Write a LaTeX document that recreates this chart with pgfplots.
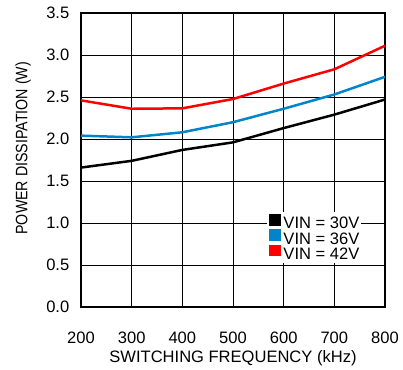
\documentclass[border=0pt]{standalone}
\usepackage{graphicx}
\usepackage{pgfplots}
\pgfplotsset{compat=1.18}
\usepackage{fontspec}
\setmainfont{Liberation Sans}
\definecolor{vblue}{RGB}{0,133,202}
\definecolor{vred}{RGB}{255,0,0}
\newcommand{\chartfont}{\fontsize{16.6}{18}\selectfont}
\begin{document}
\chartfont
\begin{tikzpicture}
\begin{axis}[
    scale only axis,
    width=304bp, height=294bp,
    xmin=200, xmax=800, ymin=0, ymax=3.5,
    xtick={200,300,...,800},
    ytick={0,0.5,...,3.5},
    yticklabel style={/pgf/number format/fixed, /pgf/number format/fixed zerofill,
        /pgf/number format/precision=1, anchor=east, xshift=-6bp},
    /pgf/number format/assume math mode=true,
    tick style={draw=none},
    ticklabel style={font=\chartfont},
    xticklabel style={anchor=base, yshift=-36bp},
    grid=major,
    major grid style={black, line width=0.75pt},
    axis line style={line width=2.2pt},
    xlabel={SWITCHING FREQUENCY (kHz)},
    ylabel={\scalebox{0.86}[1]{POWER DISSIPATION (W)}},
    label style={font=\chartfont},
    xlabel style={at={(axis description cs:0.5,-0.19)}, anchor=base},
    ylabel style={at={(axis description cs:-0.146,0.54)}, anchor=south},
    legend style={at={(0.612,0.323)}, anchor=north west, draw=none, fill=white,
        inner xsep=2bp, inner ysep=2bp, row sep=-1bp, font=\chartfont,
        nodes={inner sep=0pt, text height=11.5bp, text depth=1.5bp}},
    legend cell align=left,
    legend image code/.code={\fill[#1] (0bp,-0.5bp) rectangle (9bp,8.5bp);},
]
\addplot[black, line width=2.5pt] coordinates {(200,1.66) (300,1.74) (400,1.87) (500,1.96) (600,2.13) (700,2.29) (800,2.47)};
\addlegendentry{\,VIN = 30V\hspace{20bp}}
\addplot[vblue, line width=2.5pt] coordinates {(200,2.04) (300,2.02) (400,2.08) (500,2.20) (600,2.36) (700,2.53) (800,2.74)};
\addlegendentry{\,VIN = 36V}
\addplot[vred, line width=2.5pt] coordinates {(200,2.46) (300,2.36) (400,2.365) (500,2.476) (600,2.66) (700,2.83) (800,3.11)};
\addlegendentry{\,VIN = 42V}
\coordinate (sw) at (rel axis cs:0,0);
\coordinate (ne) at (rel axis cs:1,1);
\end{axis}
\pgfresetboundingbox
\path[use as bounding box] ([shift={(-81bp,-63bp)}]sw) rectangle ([shift={(18bp,13bp)}]ne);
\end{tikzpicture}
\end{document}
